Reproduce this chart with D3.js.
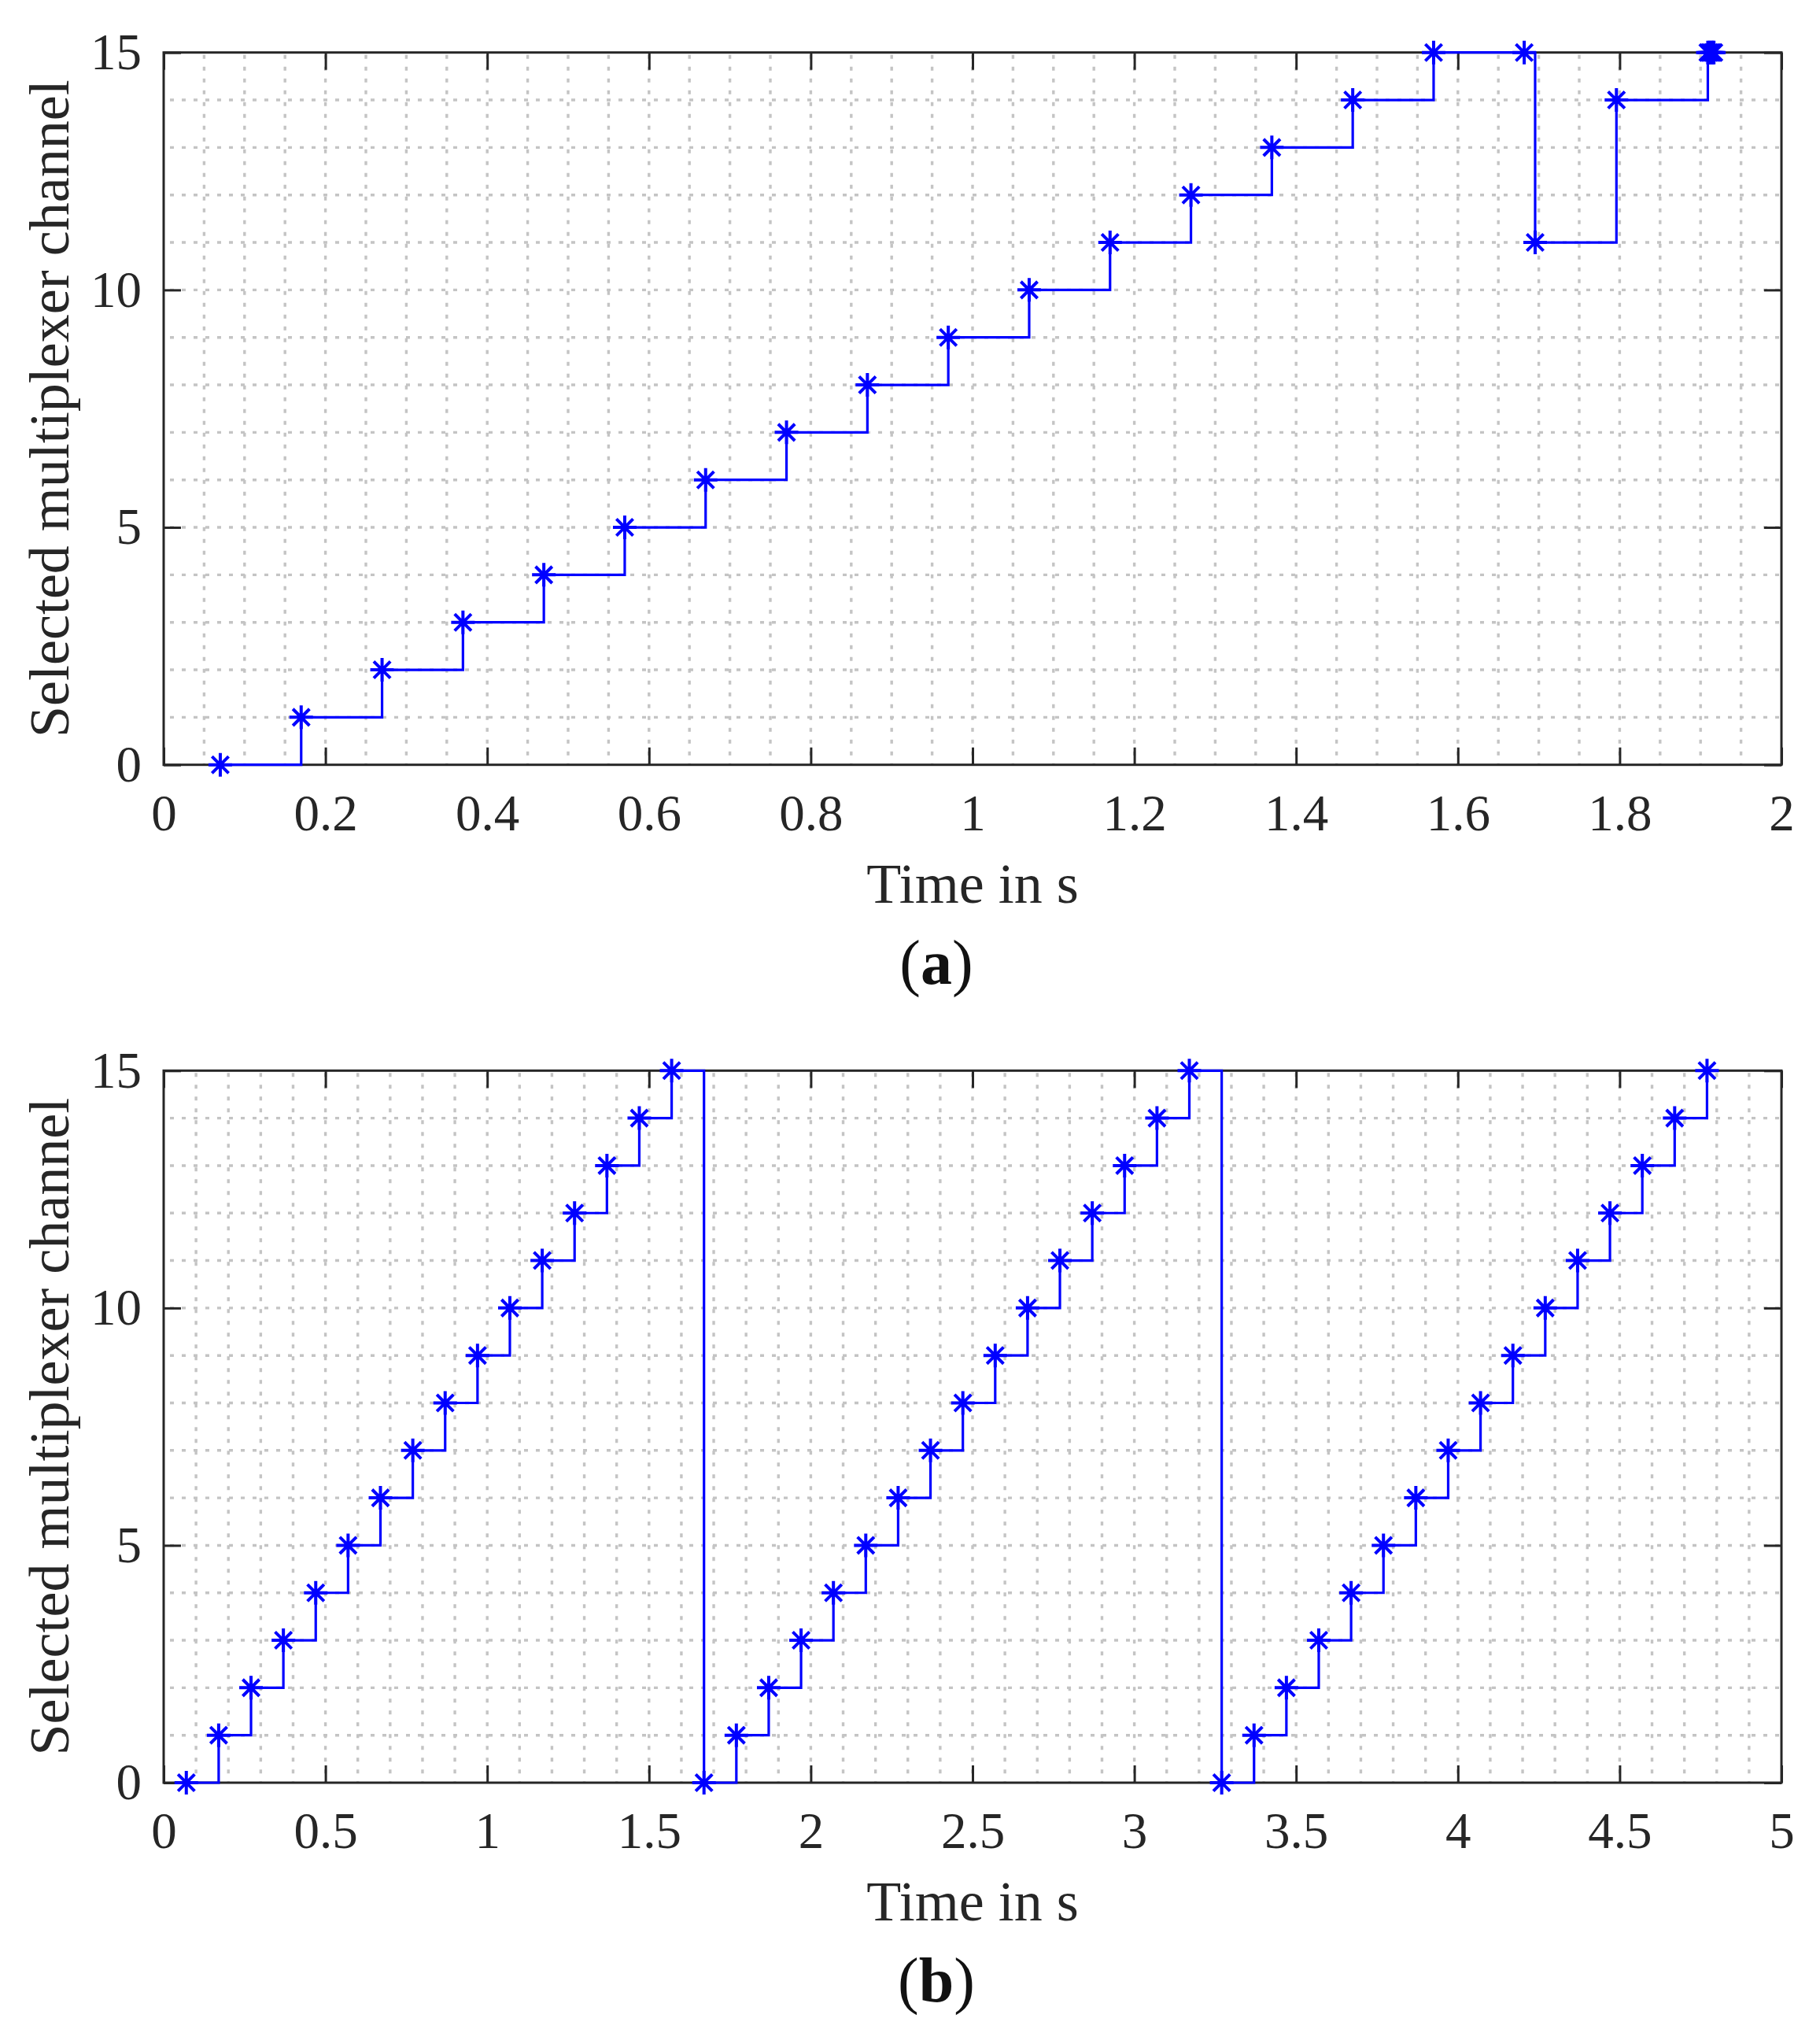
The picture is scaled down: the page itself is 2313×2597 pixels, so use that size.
<!DOCTYPE html>
<html>
<head>
<meta charset="utf-8">
<script src="https://cdn.jsdelivr.net/npm/d3@7"></script>
<style>
  body { margin: 0; background: #fff; }
  svg { display: block; }
  text { font-family: "Liberation Serif", "Times New Roman", serif; fill: #262626; }
</style>
</head>
<body>
<svg id="chart"></svg>
<script>
// panel (a): one sweep, with the jump back to channel 11 near the end
const timesA = [0.07, 0.17, 0.27, 0.37, 0.47, 0.57, 0.67, 0.77, 0.87, 0.97, 1.07, 1.17, 1.27, 1.37, 1.47, 1.57,
                1.682, 1.6955, 1.796, 1.909, 1.911, 1.913, 1.915, 1.9165];
const channelsA = [0, 1, 2, 3, 4, 5, 6, 7, 8, 9, 10, 11, 12, 13, 14, 15,
                   15, 11, 14, 15, 15, 15, 15, 15];

// panel (b): three full sweeps
const timesB = [0.07, 0.17, 0.27, 0.37, 0.47, 0.57, 0.67, 0.77, 0.87, 0.97, 1.07, 1.17, 1.27, 1.37, 1.47, 1.57,
                1.67, 1.77, 1.87, 1.97, 2.07, 2.17, 2.27, 2.37, 2.47, 2.57, 2.67, 2.77, 2.87, 2.97, 3.07, 3.17,
                3.27, 3.37, 3.47, 3.57, 3.67, 3.77, 3.87, 3.97, 4.07, 4.17, 4.27, 4.37, 4.47, 4.57, 4.67, 4.77];
const channelsB = [0, 1, 2, 3, 4, 5, 6, 7, 8, 9, 10, 11, 12, 13, 14, 15,
                   0, 1, 2, 3, 4, 5, 6, 7, 8, 9, 10, 11, 12, 13, 14, 15,
                   0, 1, 2, 3, 4, 5, 6, 7, 8, 9, 10, 11, 12, 13, 14, 15];

const xTicksA = [0, 0.2, 0.4, 0.6, 0.8, 1, 1.2, 1.4, 1.6, 1.8, 2];
const xTickLabelsA = ["0", "0.2", "0.4", "0.6", "0.8", "1", "1.2", "1.4", "1.6", "1.8", "2"];
const xTicksB = [0, 0.5, 1, 1.5, 2, 2.5, 3, 3.5, 4, 4.5, 5];
const xTickLabelsB = ["0", "0.5", "1", "1.5", "2", "2.5", "3", "3.5", "4", "4.5", "5"];
const yTicks = [0, 5, 10, 15];
const yTickLabels = ["0", "5", "10", "15"];

const xLabel = "Time in s";
const yLabel = "Selected multiplexer channel";

const W = 2313, H = 2597;
const left = 208, right = 2264;
const axisColor = "#262626", gridColor = "#c4c4c4", lineColor = "#0000ff";

const svg = d3.select("#chart").attr("width", W).attr("height", H);
svg.append("rect").attr("width", W).attr("height", H).attr("fill", "#fff");

const panels = [
  { tag: "a", top: 66.7, bottom: 971.7, xMax: 2, minorStep: 0.05, minorCount: 40,
    ticks: xTicksA, labels: xTickLabelsA, t: timesA, ch: channelsA },
  { tag: "b", top: 1360.3, bottom: 2265, xMax: 5, minorStep: 0.1, minorCount: 50,
    ticks: xTicksB, labels: xTickLabelsB, t: timesB, ch: channelsB }
];

panels.forEach(p => drawPanel(p));

function drawPanel(p) {
  let x = d3.scaleLinear().domain([0, p.xMax]).range([left, right]);
  let y = d3.scaleLinear().domain([0, 15]).range([p.bottom, p.top]);
  let g = svg.append("g");

  // dotted grid (minor and major look the same)
  let gx = d3.range(1, p.minorCount).map(i => i * p.minorStep);
  let gy = d3.range(1, 15);
  let grid = g.append("g")
      .attr("stroke", gridColor)
      .attr("stroke-width", 3.4)
      .attr("stroke-dasharray", "5,10");
  grid.selectAll(".vg").data(gx).enter().append("line")
      .attr("x1", d => x(d)).attr("x2", d => x(d))
      .attr("y1", p.top + 3).attr("y2", p.bottom);
  grid.selectAll(".hg").data(gy).enter().append("line")
      .attr("x1", left + 8).attr("x2", right)
      .attr("y1", d => y(d)).attr("y2", d => y(d));

  // axes, ticks pointing inwards on all four sides
  let fmtX = (d, i) => p.labels[i];
  let fmtY = (d, i) => yTickLabels[i];
  let bottomAxis = g.append("g").attr("transform", `translate(0,${p.bottom})`)
      .call(d3.axisBottom(x).tickValues(p.ticks).tickFormat(fmtX).tickSize(-22).tickSizeOuter(0).tickPadding(37));
  let topAxis = g.append("g").attr("transform", `translate(0,${p.top})`)
      .call(d3.axisTop(x).tickValues(p.ticks).tickFormat("").tickSize(-22).tickSizeOuter(0));
  let leftAxis = g.append("g").attr("transform", `translate(${left},0)`)
      .call(d3.axisLeft(y).tickValues(yTicks).tickFormat(fmtY).tickSize(-22).tickSizeOuter(0).tickPadding(28));
  let rightAxis = g.append("g").attr("transform", `translate(${right},0)`)
      .call(d3.axisRight(y).tickValues(yTicks).tickFormat("").tickSize(-22).tickSizeOuter(0));

  [bottomAxis, topAxis, leftAxis, rightAxis].forEach(a => {
    a.select(".domain").remove();
    a.selectAll(".tick line").attr("stroke", axisColor).attr("stroke-width", 3);
    a.selectAll(".tick text")
        .style("font-family", '"Liberation Serif", "Times New Roman", serif')
        .style("font-size", "65px")
        .attr("fill", axisColor);
  });

  g.append("rect")
      .attr("x", left).attr("y", p.top)
      .attr("width", right - left).attr("height", p.bottom - p.top)
      .attr("fill", "none").attr("stroke", axisColor).attr("stroke-width", 3);

  // labels
  g.append("text")
      .attr("x", (left + right) / 2).attr("y", p.bottom + 175)
      .attr("text-anchor", "middle")
      .style("font-size", "72px")
      .text(xLabel);
  g.append("text")
      .attr("transform", `translate(87,${(p.top + p.bottom) / 2}) rotate(-90)`)
      .attr("text-anchor", "middle")
      .style("font-size", "72px")
      .text(yLabel);

  let cap = g.append("text")
      .attr("x", 1190).attr("y", p.bottom + 278)
      .attr("text-anchor", "middle")
      .style("font-size", "80px")
      .style("fill", "#111");
  cap.append("tspan").text("(");
  cap.append("tspan").style("font-weight", "bold").text(p.tag);
  cap.append("tspan").text(")");

  // data: stairs with asterisk markers
  let pts = p.t.map((t, i) => [t, p.ch[i]]);
  let line = d3.line().x(d => x(d[0])).y(d => y(d[1])).curve(d3.curveStepAfter);
  g.append("path")
      .datum(pts)
      .attr("d", line)
      .attr("fill", "none")
      .attr("stroke", lineColor)
      .attr("stroke-width", 3.2);

  let r = 15, q = 10.6;
  let star = `M${-r},0H${r}M0,${-r}V${r}M${-q},${-q}L${q},${q}M${-q},${q}L${q},${-q}`;
  g.append("g").selectAll("path").data(pts).enter().append("path")
      .attr("transform", d => `translate(${x(d[0])},${y(d[1])})`)
      .attr("d", star)
      .attr("fill", "none")
      .attr("stroke", lineColor)
      .attr("stroke-width", 4);
}
</script>
</body>
</html>
